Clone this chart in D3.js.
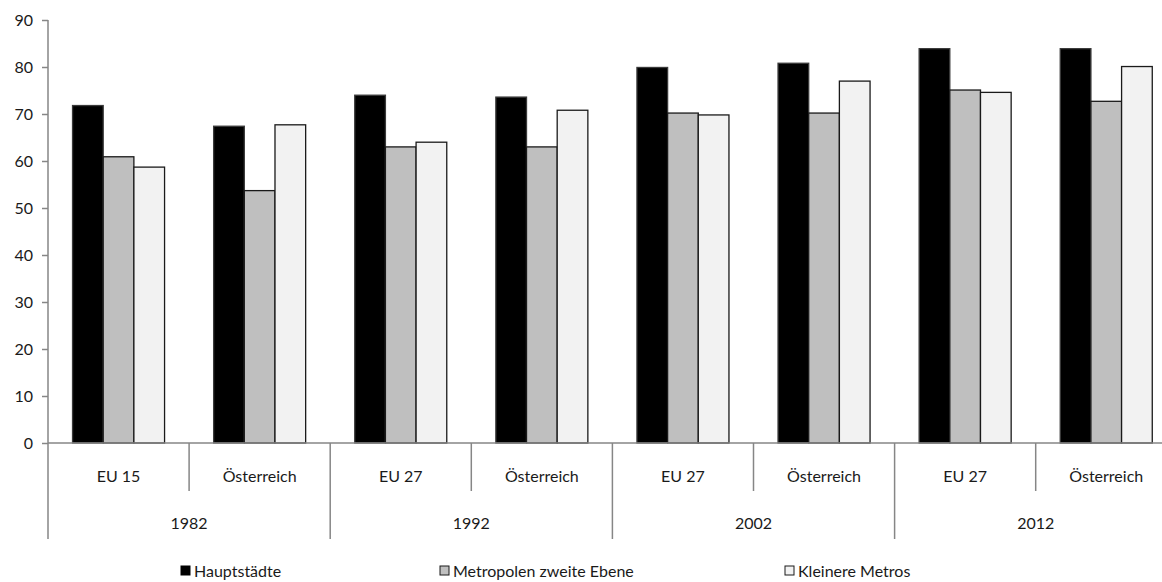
<!DOCTYPE html>
<html><head><meta charset="utf-8">
<script src="https://cdn.jsdelivr.net/npm/d3@7"></script>
<style>body{margin:0;background:#fff}svg{display:block}text{font-family:"Lato","DejaVu Sans",sans-serif;fill:#1a1a1a}</style>
</head><body><svg id="c" width="1162" height="582"></svg>
<script>
const years = ["1982","1992","2002","2012"];
const regions = ["EU 15","Österreich","EU 27","Österreich","EU 27","Österreich","EU 27","Österreich"];
const series = ["Hauptstädte","Metropolen zweite Ebene","Kleinere Metros"];
const hauptstaedte = [71.8, 67.4, 74.0, 73.6, 79.9, 80.8, 83.9, 83.9];
const metropolen   = [60.9, 53.7, 63.0, 63.0, 70.2, 70.2, 75.1, 72.7];
const kleinere     = [58.7, 67.7, 64.0, 70.8, 69.8, 77.0, 74.6, 80.1];
const yTicks = [0,10,20,30,40,50,60,70,80,90];
const fills = ["#000000","#bfbfbf","#f2f2f2"];
const strokes = ["#3a3a3a","#1a1a1a","#1a1a1a"];

const svg = d3.select("#c");
const x0 = 48, band = 141.1, y0 = 443;
const x = d3.scaleBand().domain(d3.range(regions.length)).range([x0, x0 + band*regions.length]).paddingInner(0).paddingOuter(0);
const xs = d3.scaleBand().domain([0,1,2]).range([0, band]).paddingInner(0).paddingOuter(0.8);
const y = d3.scaleLinear().domain([0,90]).range([y0, 20]);
const vals = [hauptstaedte, metropolen, kleinere];

regions.forEach((r,i)=>{
  vals.forEach((s,k)=>{
    svg.append("rect")
      .attr("x", x(i)+xs(k)).attr("width", xs.bandwidth())
      .attr("y", y(s[i])).attr("height", y(0)-y(s[i]))
      .attr("fill", fills[k]).attr("stroke", strokes[k]).attr("stroke-width", 1.3);
  });
});

const ya = svg.append("g").attr("transform",`translate(${x0},0)`)
  .call(d3.axisLeft(y).tickValues(yTicks).tickSize(6).tickPadding(9).tickFormat(d3.format("d")));
ya.select(".domain").remove();
ya.selectAll(".tick line").attr("stroke","#868686").attr("stroke-width",1.5);
ya.selectAll(".tick text").style("font-size","16px").attr("fill","#1a1a1a").style("font-family","Lato, DejaVu Sans, sans-serif");
svg.append("line").attr("x1",x0).attr("x2",x0).attr("y1",20).attr("y2",539).attr("stroke","#868686").attr("stroke-width",1.5);

svg.append("line").attr("x1",x0).attr("x2",1162).attr("y1",y0).attr("y2",y0).attr("stroke","#868686").attr("stroke-width",1.5);

d3.range(1, regions.length+1).forEach(i=>{
  const xx = x0 + band*i;
  svg.append("line").attr("x1",xx).attr("x2",xx).attr("y1",y0).attr("y2", i%2===0 ? 539 : 491)
    .attr("stroke","#868686").attr("stroke-width",1.5);
});

regions.forEach((r,i)=>{
  svg.append("text").attr("x", x(i)+band/2).attr("y", 482).attr("text-anchor","middle")
    .style("font-size","16px").text(r);
});
years.forEach((yr,j)=>{
  svg.append("text").attr("x", x0 + band*(2*j+1)).attr("y", 529).attr("text-anchor","middle")
    .style("font-size","16px").text(yr);
});

const legX = [181, 440, 785];
series.forEach((s,k)=>{
  svg.append("rect").attr("x", legX[k]).attr("y", 566).attr("width", 9).attr("height", 9)
    .attr("fill", fills[k]).attr("stroke", k===0 ? "#000" : "#1a1a1a").attr("stroke-width",1);
  svg.append("text").attr("x", legX[k]+13).attr("y", 577).style("font-size","16px").text(s);
});
</script></body></html>
